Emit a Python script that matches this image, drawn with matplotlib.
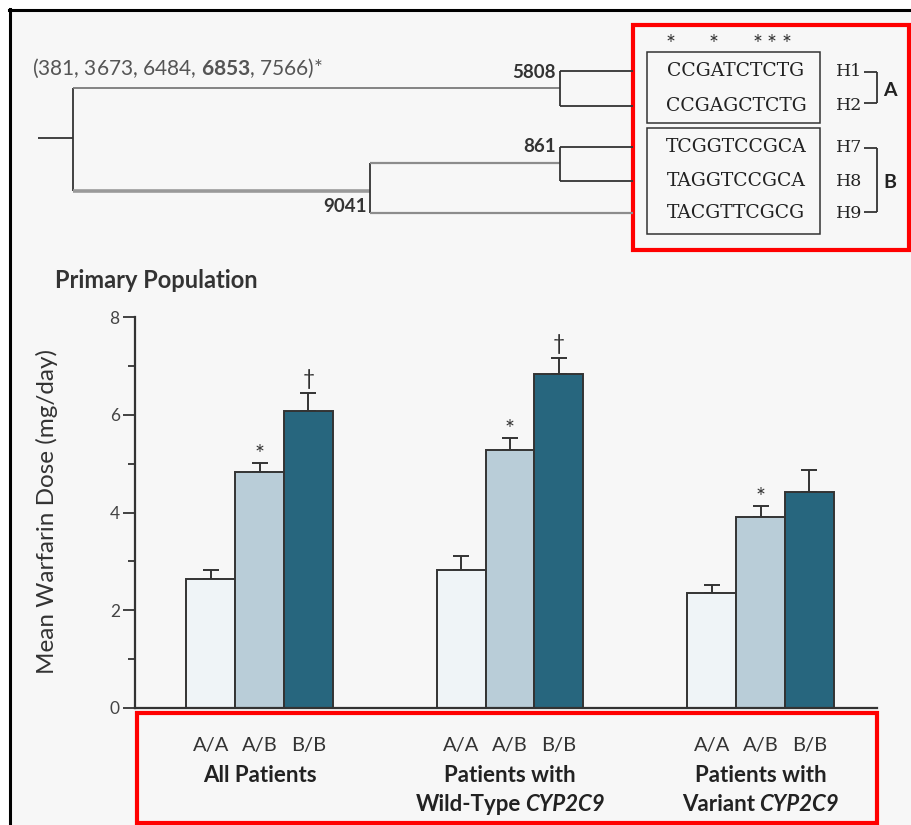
import matplotlib
matplotlib.use("Agg")
import matplotlib.pyplot as plt
from matplotlib.patches import Rectangle
from matplotlib.offsetbox import TextArea, HPacker, VPacker, AnnotationBbox
import numpy as np

plt.rcParams["font.family"] = ["Lato", "DejaVu Sans"]
plt.rcParams["mathtext.fontset"] = "custom"
plt.rcParams["mathtext.rm"] = "Lato"
plt.rcParams["mathtext.bf"] = "Lato:bold"

# bar chart data
groups = [["All Patients"],
          ["Patients with", "Wild-Type ", "CYP2C9"],
          ["Patients with", "Variant ", "CYP2C9"]]
genotypes = ["A/A", "A/B", "B/B"]
aa = [2.64, 2.82, 2.36]
aa_err = [0.19, 0.29, 0.15]
ab = [4.83, 5.29, 3.90]
ab_err = [0.19, 0.23, 0.23]
bb = [6.08, 6.83, 4.41]
bb_err = [0.37, 0.33, 0.46]
ab_mark = ["*", "*", "*"]
bb_mark = ["\u2020", "\u2020", ""]

# haplotype tree data
sequences = ["CCGATCTCTG", "CCGAGCTCTG", "TCGGTCCGCA", "TAGGTCCGCA", "TACGTTCGCG"]
haplotypes = ["H1", "H2", "H7", "H8", "H9"]
star_cols = [0, 3, 6, 7, 8]
node_labels = ["5808", "861", "9041"]

colors = ["#eff4f7", "#b9cdd8", "#27667e"]
edge = "#333333"

fig = plt.figure(figsize=(9.12, 8.25), dpi=100)
fig.patch.set_facecolor("white")

# full-figure pixel canvas
bg = fig.add_axes([0, 0, 1, 1])
bg.set_xlim(0, 912)
bg.set_ylim(825, 0)
bg.axis("off")
bg.add_patch(Rectangle((10, 10), 910, 820, facecolor="#f7f7f7", edgecolor="none"))
bg.plot([10, 10], [9, 825], color="black", lw=2.2)
bg.plot([9, 912], [10, 10], color="black", lw=2.2)

# --- tree ---
gray = "#8c8c8c"
dark = "#333333"
def seg(x0, y0, x1, y1, c=dark, lw=1.3):
    bg.plot([x0, x1], [y0, y1], color=c, lw=lw, solid_capstyle="butt")

seq_y = [71, 106, 147, 181, 213]
seg(38, 138, 73, 138)
seg(73, 88, 73, 191)
seg(73, 88, 560, 88, c="#7a7a7a", lw=1.3)
seg(73, 191, 370, 191, c="#9a9a9a", lw=2.6)
seg(560, seq_y[0], 560, seq_y[1])
seg(560, seq_y[0], 633, seq_y[0])
seg(560, seq_y[1], 633, seq_y[1])
seg(370, 163, 370, seq_y[4])
seg(370, 163, 560, 163, c=gray, lw=1.6)
seg(370, seq_y[4], 633, seq_y[4], c=gray, lw=1.6)
seg(560, seq_y[2], 560, seq_y[3])
seg(560, seq_y[2], 633, seq_y[2])
seg(560, seq_y[3], 633, seq_y[3])

bg.text(556, 72, node_labels[0], ha="right", va="center", fontsize=13.5, fontweight="bold", color="#333")
bg.text(556, 147, node_labels[1], ha="right", va="center", fontsize=13.5, fontweight="bold", color="#333")
bg.text(367, 207, node_labels[2], ha="right", va="center", fontsize=13.5, fontweight="bold", color="#333")

bg.text(32, 68, "(381, 3673, 6484, $\\bf{6853}$, 7566)*", ha="left", va="center",
        fontsize=15, color="#555")

bg.add_patch(Rectangle((633, 25), 276, 225, facecolor="none", edgecolor="red", lw=3))
bg.add_patch(Rectangle((647, 52), 173, 71, facecolor="none", edgecolor=dark, lw=1.1))
bg.add_patch(Rectangle((647, 128), 173, 106, facecolor="none", edgecolor=dark, lw=1.1))

for s, h, y in zip(sequences, haplotypes, seq_y):
    bg.text(736, y, s, ha="center", va="center", fontsize=13.5, family="DejaVu Serif", color="#222")
    bg.text(849, y, h, ha="center", va="center", fontsize=12.5, family="DejaVu Serif", color="#222")

char_w = 14.5
for c in star_cols:
    bg.text(663 + char_w * (c + 0.5), 44, "*", ha="center", va="center", fontsize=17, color="#333")

seg(864, 72, 877, 72)
seg(877, 72, 877, 103)
seg(864, 103, 877, 103)
seg(864, 148, 877, 148)
seg(877, 148, 877, 212)
seg(864, 212, 877, 212)
bg.text(890, 90, "A", ha="center", va="center", fontsize=14, fontweight="bold", color="#222")
bg.text(890, 183, "B", ha="center", va="center", fontsize=14, fontweight="bold", color="#222")

# --- bar chart ---
ax = fig.add_axes([135 / 912, 117.3 / 825, (877 - 135) / 912, 390.4 / 825])
ax.set_facecolor("none")
x = np.arange(len(groups))
bw = 0.195
for i, (vals, errs, col) in enumerate(zip([aa, ab, bb], [aa_err, ab_err, bb_err], colors)):
    xs = x + (i - 1) * bw
    ax.errorbar(xs, vals, yerr=[np.zeros(3), errs], fmt="none", ecolor=edge,
                elinewidth=1.4, capsize=5.5, capthick=1.4, zorder=1)
    ax.bar(xs, vals, bw, color=col, edgecolor=edge, linewidth=1.4, zorder=2)

for xi, v, e, m in zip(x, ab, ab_err, ab_mark):
    ax.annotate(m, (xi, v + e), xytext=(0, 6), textcoords="offset points",
                ha="center", va="center", fontsize=17, color="#333")
for xi, v, e, m in zip(x + bw, bb, bb_err, bb_mark):
    ax.annotate(m, (xi, v + e), xytext=(0, 10), textcoords="offset points",
                ha="center", va="center", fontsize=15, color="#333")

ax.set_xlim(-0.497, 2.465)
ax.set_ylim(0, 8)
ax.set_yticks([0, 2, 4, 6, 8])
ax.set_yticks([1, 3, 5, 7], minor=True)
ax.tick_params(axis="y", which="major", length=9, width=1.3, color=edge,
               labelsize=12.5, labelcolor="#444", pad=2)
ax.tick_params(axis="y", which="minor", length=5, width=1.3, color=edge)
tick_x = np.concatenate([x - bw, x, x + bw])
ax.set_xticks(tick_x)
ax.set_xticklabels(genotypes[:1] * 3 + genotypes[1:2] * 3 + genotypes[2:] * 3)
ax.tick_params(axis="x", length=0, labelsize=14.5, labelcolor="#333", pad=21)
for sp in ["top", "right"]:
    ax.spines[sp].set_visible(False)
for sp in ["left", "bottom"]:
    ax.spines[sp].set_color(edge)
    ax.spines[sp].set_linewidth(1.6)

# group labels, second line mixes upright and italic
tp = dict(fontsize=16, fontweight="bold", color="#222")
for xi, g in zip(x, groups):
    lines = [TextArea(g[0], textprops=tp)]
    if len(g) > 1:
        lines.append(HPacker(children=[TextArea(g[1].strip(), textprops=tp),
                                       TextArea(g[2], textprops=dict(tp, style="italic"))],
                             pad=0, sep=3, align="baseline"))
    box = VPacker(children=lines, pad=0, sep=6, align="center")
    ab_box = AnnotationBbox(box, (xi, 0), xybox=(0, -41), xycoords="data",
                            boxcoords="offset points", box_alignment=(0.5, 1),
                            frameon=False, annotation_clip=False)
    ax.add_artist(ab_box)

bg.text(55, 281, "Primary Population", ha="left", va="center", fontsize=17,
        fontweight="bold", color="#333")
bg.text(47, 512, "Mean Warfarin Dose (mg/day)", ha="center", va="center", rotation=90,
        fontsize=17.5, color="#333")

bg.add_patch(Rectangle((137, 713), 740, 110, facecolor="none", edgecolor="red", lw=3, zorder=5))

fig.savefig("out.png", dpi=100, facecolor=fig.get_facecolor())
